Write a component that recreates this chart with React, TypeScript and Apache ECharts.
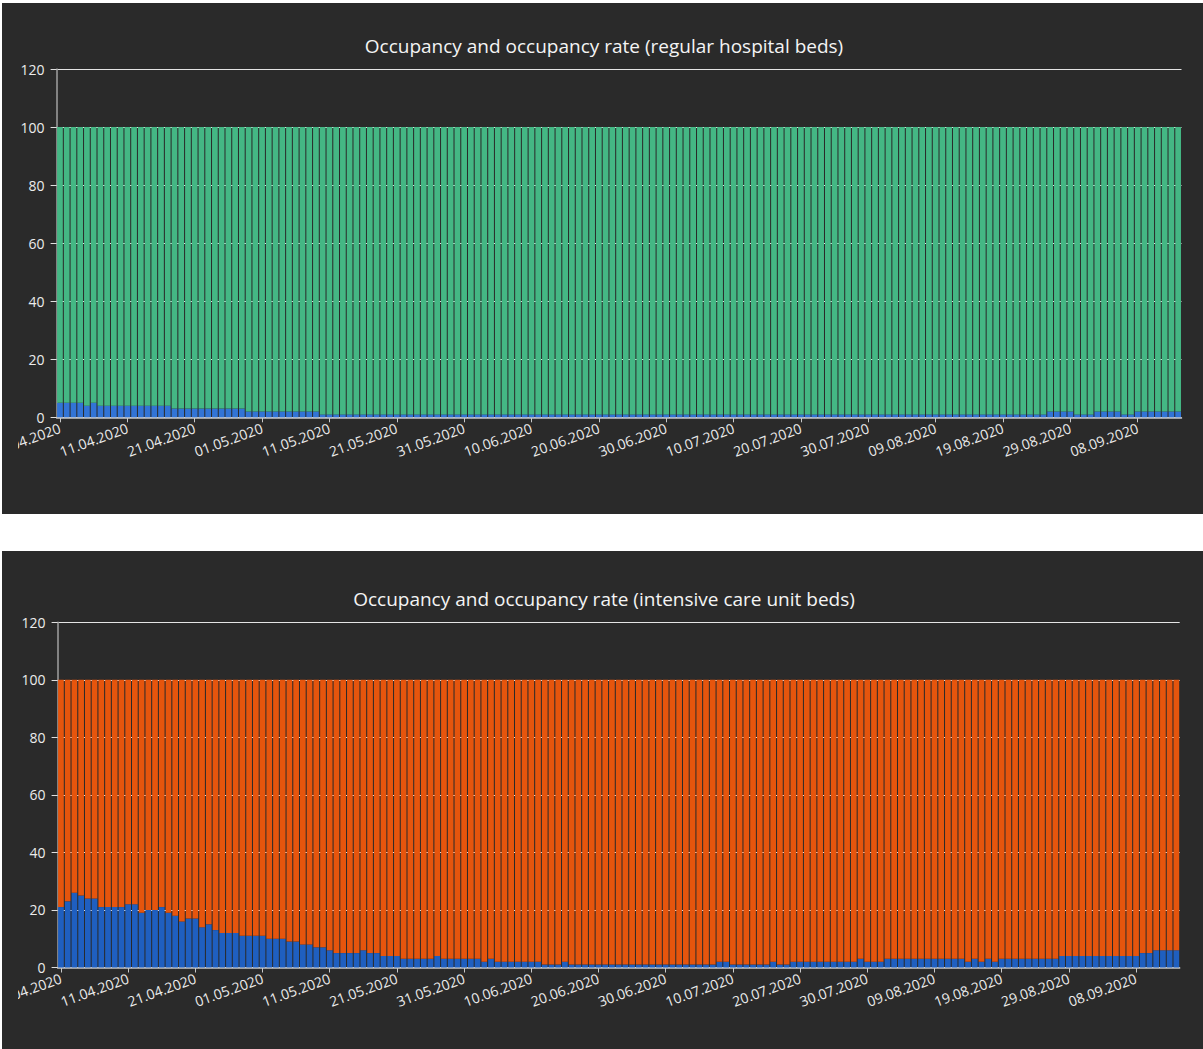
import React, { useEffect, useRef } from "react";
import * as echarts from "echarts";

const FONT = "'Open Sans', 'DejaVu Sans', sans-serif";

// Categories: one bar per day, 01.04.2020 .. 14.09.2020
const START_DATE = new Date(Date.UTC(2020, 3, 1));
const DAY_COUNT = 167;
const pad2 = (n: number) => (n < 10 ? "0" + n : String(n));
const dates: string[] = [];
for (let i = 0; i < DAY_COUNT; i++) {
  const d = new Date(START_DATE.getTime() + i * 86400000);
  dates.push(pad2(d.getUTCDate()) + "." + pad2(d.getUTCMonth() + 1) + "." + d.getUTCFullYear());
}

const yTicks = { min: 0, max: 120, step: 20 };

// Regular hospital beds (%)
const regularOccupied = [
  5, 5, 5, 5, 4, 5, 4, 4, 4, 4,
  4, 4, 4, 4, 4, 4, 4, 3, 3, 3,
  3, 3, 3, 3, 3, 3, 3, 3, 2, 2,
  2, 2, 2, 2, 2, 2, 2, 2, 2, 1,
  1, 1, 1, 1, 1, 1, 1, 1, 1, 1,
  1, 1, 1, 1, 1, 1, 1, 1, 1, 1,
  1, 1, 1, 1, 1, 1, 1, 1, 1, 1,
  1, 1, 1, 1, 1, 1, 1, 1, 1, 1,
  1, 1, 1, 1, 1, 1, 1, 1, 1, 1,
  1, 1, 1, 1, 1, 1, 1, 1, 1, 1,
  1, 1, 1, 1, 1, 1, 1, 1, 1, 1,
  1, 1, 1, 1, 1, 1, 1, 1, 1, 1,
  1, 1, 1, 1, 1, 1, 1, 1, 1, 1,
  1, 1, 1, 1, 1, 1, 1, 1, 1, 1,
  1, 1, 1, 1, 1, 1, 1, 2, 2, 2,
  2, 1, 1, 1, 2, 2, 2, 2, 1, 1,
  2, 2, 2, 2, 2, 2, 2,
];
const regularFree = [
  95, 95, 95, 95, 96, 95, 96, 96, 96, 96,
  96, 96, 96, 96, 96, 96, 96, 97, 97, 97,
  97, 97, 97, 97, 97, 97, 97, 97, 98, 98,
  98, 98, 98, 98, 98, 98, 98, 98, 98, 99,
  99, 99, 99, 99, 99, 99, 99, 99, 99, 99,
  99, 99, 99, 99, 99, 99, 99, 99, 99, 99,
  99, 99, 99, 99, 99, 99, 99, 99, 99, 99,
  99, 99, 99, 99, 99, 99, 99, 99, 99, 99,
  99, 99, 99, 99, 99, 99, 99, 99, 99, 99,
  99, 99, 99, 99, 99, 99, 99, 99, 99, 99,
  99, 99, 99, 99, 99, 99, 99, 99, 99, 99,
  99, 99, 99, 99, 99, 99, 99, 99, 99, 99,
  99, 99, 99, 99, 99, 99, 99, 99, 99, 99,
  99, 99, 99, 99, 99, 99, 99, 99, 99, 99,
  99, 99, 99, 99, 99, 99, 99, 98, 98, 98,
  98, 99, 99, 99, 98, 98, 98, 98, 99, 99,
  98, 98, 98, 98, 98, 98, 98,
];

// Intensive care unit beds (%)
const icuOccupied = [
  21, 23, 26, 25, 24, 24, 21, 21, 21, 21,
  22, 22, 19, 20, 20, 21, 19, 18, 16, 17,
  17, 14, 15, 13, 12, 12, 12, 11, 11, 11,
  11, 10, 10, 10, 9, 9, 8, 8, 7, 7,
  6, 5, 5, 5, 5, 6, 5, 5, 4, 4,
  4, 3, 3, 3, 3, 3, 4, 3, 3, 3,
  3, 3, 3, 2, 3, 2, 2, 2, 2, 2,
  2, 2, 1, 1, 1, 2, 1, 1, 1, 1,
  1, 1, 1, 1, 1, 1, 1, 1, 1, 1,
  1, 1, 1, 1, 1, 1, 1, 1, 2, 2,
  1, 1, 1, 1, 1, 1, 2, 1, 1, 2,
  2, 2, 2, 2, 2, 2, 2, 2, 2, 3,
  2, 2, 2, 3, 3, 3, 3, 3, 3, 3,
  3, 3, 3, 3, 3, 2, 3, 2, 3, 2,
  3, 3, 3, 3, 3, 3, 3, 3, 3, 4,
  4, 4, 4, 4, 4, 4, 4, 4, 4, 4,
  4, 5, 5, 6, 6, 6, 6,
];
const icuFree = [
  79, 77, 74, 75, 76, 76, 79, 79, 79, 79,
  78, 78, 81, 80, 80, 79, 81, 82, 84, 83,
  83, 86, 85, 87, 88, 88, 88, 89, 89, 89,
  89, 90, 90, 90, 91, 91, 92, 92, 93, 93,
  94, 95, 95, 95, 95, 94, 95, 95, 96, 96,
  96, 97, 97, 97, 97, 97, 96, 97, 97, 97,
  97, 97, 97, 98, 97, 98, 98, 98, 98, 98,
  98, 98, 99, 99, 99, 98, 99, 99, 99, 99,
  99, 99, 99, 99, 99, 99, 99, 99, 99, 99,
  99, 99, 99, 99, 99, 99, 99, 99, 98, 98,
  99, 99, 99, 99, 99, 99, 98, 99, 99, 98,
  98, 98, 98, 98, 98, 98, 98, 98, 98, 97,
  98, 98, 98, 97, 97, 97, 97, 97, 97, 97,
  97, 97, 97, 97, 97, 98, 97, 98, 97, 98,
  97, 97, 97, 97, 97, 97, 97, 97, 97, 96,
  96, 96, 96, 96, 96, 96, 96, 96, 96, 96,
  96, 95, 95, 94, 94, 94, 94,
];

type Layout = { left: number; right: number; top: number; bottom: number; titleX: number; titleTop: number };

function makeOption(
  title: string,
  occupied: number[],
  free: number[],
  occColor: string,
  freeColor: string,
  l: Layout
) {
  return {
    animation: false,
    backgroundColor: "transparent",
    title: {
      text: title,
      left: l.titleX,
      top: l.titleTop,
      textAlign: "center",
      textStyle: { color: "#f4f4f4", fontSize: 19, fontWeight: "normal", fontFamily: FONT },
    },
    grid: {
      left: l.left,
      right: l.right,
      top: l.top,
      bottom: l.bottom,
      containLabel: false,
      outerBoundsMode: "none",
    },
    xAxis: {
      type: "category",
      data: dates,
      boundaryGap: true,
      axisLine: { show: true, lineStyle: { color: "#c8c8c8", width: 1.5 } },
      axisTick: { show: true, alignWithLabel: true, interval: 9, length: 5, lineStyle: { color: "#c8c8c8" } },
      axisLabel: {
        interval: 9,
        rotate: 20,
        margin: 10,
        color: "#ececec",
        fontSize: 14,
        fontFamily: FONT,
      },
    },
    yAxis: {
      type: "value",
      min: yTicks.min,
      max: yTicks.max,
      interval: yTicks.step,
      axisLine: { show: true, lineStyle: { color: "#a0a0a0", width: 1.5 } },
      axisTick: { show: true, length: 6, lineStyle: { color: "#e0e0e0" } },
      axisLabel: { color: "#ececec", fontSize: 14, margin: 12, fontFamily: FONT },
      splitLine: { show: true, lineStyle: { color: "#e4e4e4", width: 1 } },
    },
    series: [
      {
        type: "bar",
        name: "Occupied",
        stack: "beds",
        data: occupied,
        barCategoryGap: "15%",
        itemStyle: { color: occColor },
      },
      {
        type: "bar",
        name: "Free",
        stack: "beds",
        data: free,
        barCategoryGap: "15%",
        itemStyle: { color: freeColor },
      },
    ],
  };
}

function Chart({ option, width, height }: { option: any; width: number; height: number }) {
  const ref = useRef<HTMLDivElement>(null);
  useEffect(() => {
    if (!ref.current) return;
    const chart = echarts.init(ref.current, undefined, { renderer: "svg" });
    chart.setOption(option);
    return () => chart.dispose();
  }, [option]);
  return <div ref={ref} style={{ width, height, overflow: "hidden" }} />;
}

const topOption = makeOption(
  "Occupancy and occupancy rate (regular hospital beds)",
  regularOccupied,
  regularFree,
  "#3274d6",
  "#44b784",
  { left: 38.6, right: 21.5, top: 66, bottom: 96.7, titleX: 581, titleTop: 28 }
);

const bottomOption = makeOption(
  "Occupancy and occupancy rate (intensive care unit beds)",
  icuOccupied,
  icuFree,
  "#1f5fc0",
  "#e6550d",
  { left: 39.6, right: 23.3, top: 71.3, bottom: 81.5, titleX: 581, titleTop: 33 }
);

export default function App() {
  return (
    <div style={{ position: "absolute", left: 0, top: 0, width: 1203, height: 1049, background: "#ffffff", overflow: "hidden" }}>
      <div style={{ position: "absolute", left: 2, top: 3, width: 1201, height: 511, background: "#2a2a2a" }}>
        <div style={{ position: "absolute", left: 16, top: 0 }}>
          <Chart option={topOption} width={1185} height={511} />
        </div>
      </div>
      <div style={{ position: "absolute", left: 2, top: 551, width: 1201, height: 498, background: "#2a2a2a" }}>
        <div style={{ position: "absolute", left: 16, top: 0 }}>
          <Chart option={bottomOption} width={1185} height={498} />
        </div>
      </div>
    </div>
  );
}
